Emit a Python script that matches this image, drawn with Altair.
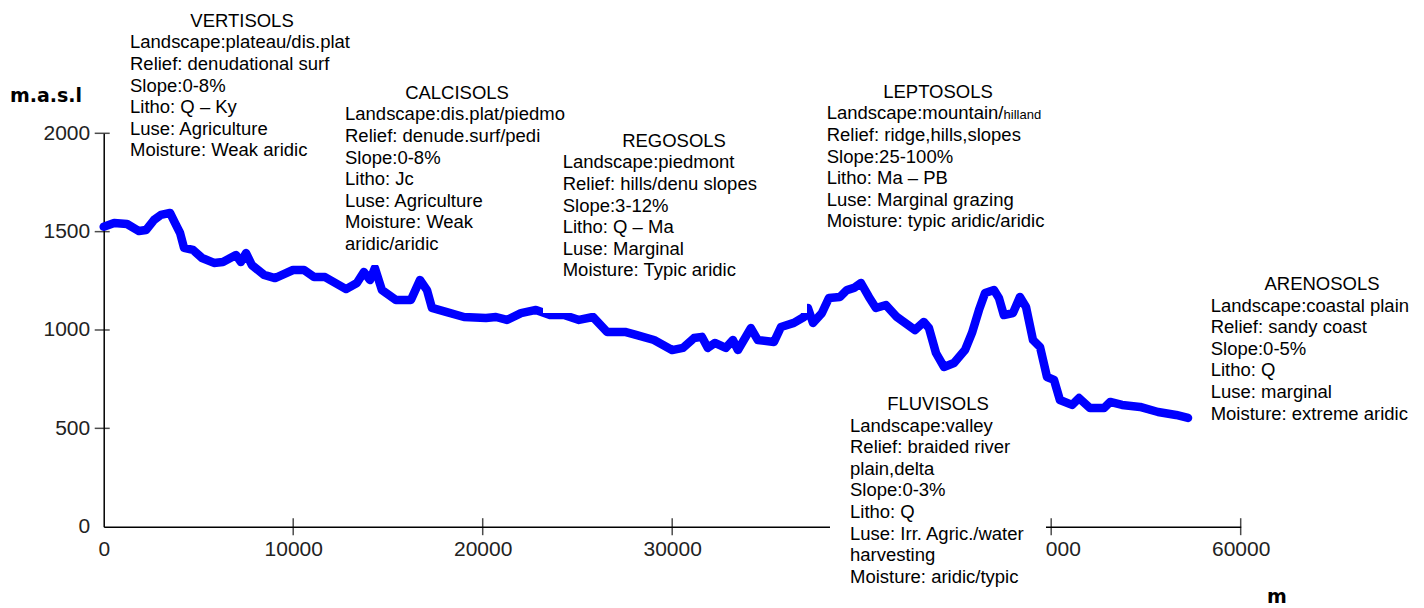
import altair as alt
import pandas as pd

# ---------------- data ----------------
distance_m = [0, 550, 1230, 1860, 2230, 2650, 3020, 3500, 3760, 4030,
              4240, 4710, 5190, 5820, 6290, 6980, 7240, 7510, 7820, 8460,
              9040, 9990, 10570, 11100, 11680, 12790, 13360, 13730, 14050, 14310,
              14680, 15420, 16210, 16690, 17060, 17320, 18060, 19010, 20170, 20700,
              21280, 22020, 22810, 23550, 24290, 25080, 25820, 26560, 27510, 28090,
              29040, 29990, 30570, 31150, 31570, 31880, 32250, 32830, 33200, 33470,
              34150, 34520, 35370, 35740, 36420, 36950, 37160, 37430, 37900, 38270,
              38850, 39220, 39590, 39960, 40380, 40750, 41280, 41860, 42810, 43280,
              43550, 43920, 44340, 44870, 45450, 45820, 46190, 46510, 46980, 47240,
              47500, 47980, 48350, 48670, 49040, 49410, 49780, 50150, 50460, 51100,
              51470, 52050, 52790, 53110, 53740, 54690, 55640, 56590, 57220]
elevation_m = [1525, 1544, 1539, 1503, 1508, 1559, 1585, 1595, 1544, 1493,
               1417, 1407, 1366, 1341, 1346, 1381, 1346, 1391, 1330, 1280,
               1264, 1305, 1305, 1269, 1269, 1208, 1239, 1295, 1254, 1315,
               1203, 1153, 1153, 1254, 1203, 1112, 1092, 1066, 1061, 1066,
               1051, 1086, 1102, 1076, 1076, 1051, 1066, 990, 990, 975,
               949, 898, 909, 959, 965, 909, 934, 909, 949, 898,
               1010, 949, 939, 1015, 1036, 1066, 1112, 1036, 1086, 1163,
               1168, 1203, 1214, 1239, 1168, 1112, 1127, 1066, 1000, 1041,
               1010, 883, 812, 832, 898, 985, 1102, 1188, 1203, 1163,
               1076, 1086, 1168, 1117, 949, 914, 761, 746, 644, 619,
               654, 603, 603, 634, 619, 609, 583, 568, 553]

# 40000 label is hidden by the FLUVISOLS box in the reference
x_label_values = [0, 10000, 20000, 30000, 50000, 60000]
y_label_values = [0, 500, 1000, 1500, 2000]
x_tick_values = [10000, 20000, 30000, 40000, 50000, 60000]
y_tick_values = [500, 1000, 1500, 2000]

y_title = "m.a.s.l"
x_title = "m"

soil_names = ["VERTISOLS", "CALCISOLS", "REGOSOLS", "LEPTOSOLS", "FLUVISOLS", "ARENOSOLS"]
soil_lines = [
    ["Landscape:plateau/dis.plat", "Relief: denudational surf", "Slope:0-8%",
     "Litho: Q – Ky", "Luse: Agriculture", "Moisture: Weak aridic"],
    ["Landscape:dis.plat/piedmo", "Relief: denude.surf/pedi", "Slope:0-8%",
     "Litho: Jc", "Luse: Agriculture", "Moisture: Weak", "aridic/aridic"],
    ["Landscape:piedmont", "Relief: hills/denu slopes", "Slope:3-12%",
     "Litho: Q – Ma", "Luse: Marginal", "Moisture: Typic aridic"],
    ["Landscape:mountain/", "Relief: ridge,hills,slopes", "Slope:25-100%",
     "Litho: Ma – PB", "Luse: Marginal grazing", "Moisture: typic aridic/aridic"],
    ["Landscape:valley", "Relief: braided river", "plain,delta", "Slope:0-3%",
     "Litho: Q", "Luse: Irr. Agric./water", "harvesting", "Moisture: aridic/typic"],
    ["Landscape:coastal plain", "Relief: sandy coast", "Slope:0-5%",
     "Litho: Q", "Luse: marginal", "Moisture: extreme aridic"],
]
small_suffix = "hilland"

# ---------------- layout (page pixels) ----------------
OX, OY = 103.7, 133.3          # plot origin on the page
W, H = 1137, 393.4              # plot area
FONT = "Liberation Sans"
FS = 18.5
LH = 21.6

# (title centre x, title centre y, block left x) in page pixels
block_pos = [(242, 20.7, 130), (457, 92.7, 345), (674, 140.7, 562.7),
             (938, 91.7, 826.7), (938, 404, 850), (1322, 284, 1210.7)]
# white label boxes that hide parts of the profile and axis (page pixels)
white_boxes = [(335, 566, 80, 265), (543, 807, 125, 313), (830, 1046, 392, 592)]

dummy = pd.DataFrame({"k": [0]})
xscale = alt.Scale(domain=[0, 60000], nice=False, zero=False)
yscale = alt.Scale(domain=[0, 2000], nice=False, zero=False)

axis_common = dict(title=None, grid=False, domainColor="black", domainWidth=1.5,
                   tickSize=0, labelFont=FONT, labelFontSize=21, labelColor="#222222",
                   labelOverlap=False, labelBound=False, labelFlush=False, format="d")
x_axis = alt.Axis(values=x_label_values, labelPadding=12, **axis_common)
y_axis = alt.Axis(values=y_label_values, labelPadding=14, **axis_common)

line = alt.Chart(pd.DataFrame({"distance": distance_m, "elevation": elevation_m})).mark_line(
    color="#0000ff", strokeWidth=8.5, strokeJoin="round", strokeCap="round"
).encode(
    x=alt.X("distance:Q", scale=xscale, axis=x_axis),
    y=alt.Y("elevation:Q", scale=yscale, axis=y_axis),
)

xticks = alt.Chart(pd.DataFrame({"distance": x_tick_values})).mark_tick(
    color="black", thickness=1.5, size=17, orient="vertical"
).encode(x=alt.X("distance:Q", scale=xscale, axis=x_axis), y=alt.value(H))

yticks = alt.Chart(pd.DataFrame({"elevation": y_tick_values})).mark_tick(
    color="black", thickness=1.5, size=15, orient="horizontal"
).encode(y=alt.Y("elevation:Q", scale=yscale, axis=y_axis), x=alt.value(-1.5))

layers = [line, xticks, yticks]

for (x1, x2, y1, y2) in white_boxes:
    layers.append(alt.Chart(dummy).mark_rect(color="white").encode(
        x=alt.value(x1 - OX), x2=alt.value(x2 - OX),
        y=alt.value(y1 - OY), y2=alt.value(y2 - OY)))

for name, lines, (tcx, tcy, lx) in zip(soil_names, soil_lines, block_pos):
    layers.append(alt.Chart(dummy).mark_text(
        text=name, align="center", baseline="middle", font=FONT, fontSize=FS, color="black"
    ).encode(x=alt.value(tcx - OX), y=alt.value(tcy - OY)))
    first_center = tcy + LH
    layers.append(alt.Chart(dummy).mark_text(
        text=lines, align="left", baseline="top", font=FONT, fontSize=FS,
        lineHeight=LH, color="black"
    ).encode(x=alt.value(lx - OX), y=alt.value(first_center - 8.9 - OY)))

# small "hilland" after "Landscape:mountain/"
lep_tcx, lep_tcy, lep_lx = block_pos[3]
layers.append(alt.Chart(dummy).mark_text(
    text=small_suffix, align="left", baseline="alphabetic", font=FONT, fontSize=13, color="black"
).encode(x=alt.value(lep_lx + 9.561 * FS - OX), y=alt.value(lep_tcy + LH + 6 - OY)))

# axis titles
layers.append(alt.Chart(dummy).mark_text(
    text=y_title, align="left", baseline="alphabetic", font="DejaVu Sans",
    fontWeight="bold", fontSize=19, color="black"
).encode(x=alt.value(10 - OX), y=alt.value(101.7 - OY)))
layers.append(alt.Chart(dummy).mark_text(
    text=x_title, align="left", baseline="alphabetic", font="DejaVu Sans",
    fontWeight="bold", fontSize=19, color="black"
).encode(x=alt.value(1267 - OX), y=alt.value(603 - OY)))

chart = alt.layer(*layers).properties(
    width=W, height=H,
    padding={"left": OX - 8, "top": OY - 8, "right": 1408 - (OX - 8) - W, "bottom": 79},
    autosize=alt.AutoSizeParams(type="none"),
    background="white",
).configure_view(stroke=None)

chart.save("out.html", embed_options={"renderer": "svg", "actions": False})
